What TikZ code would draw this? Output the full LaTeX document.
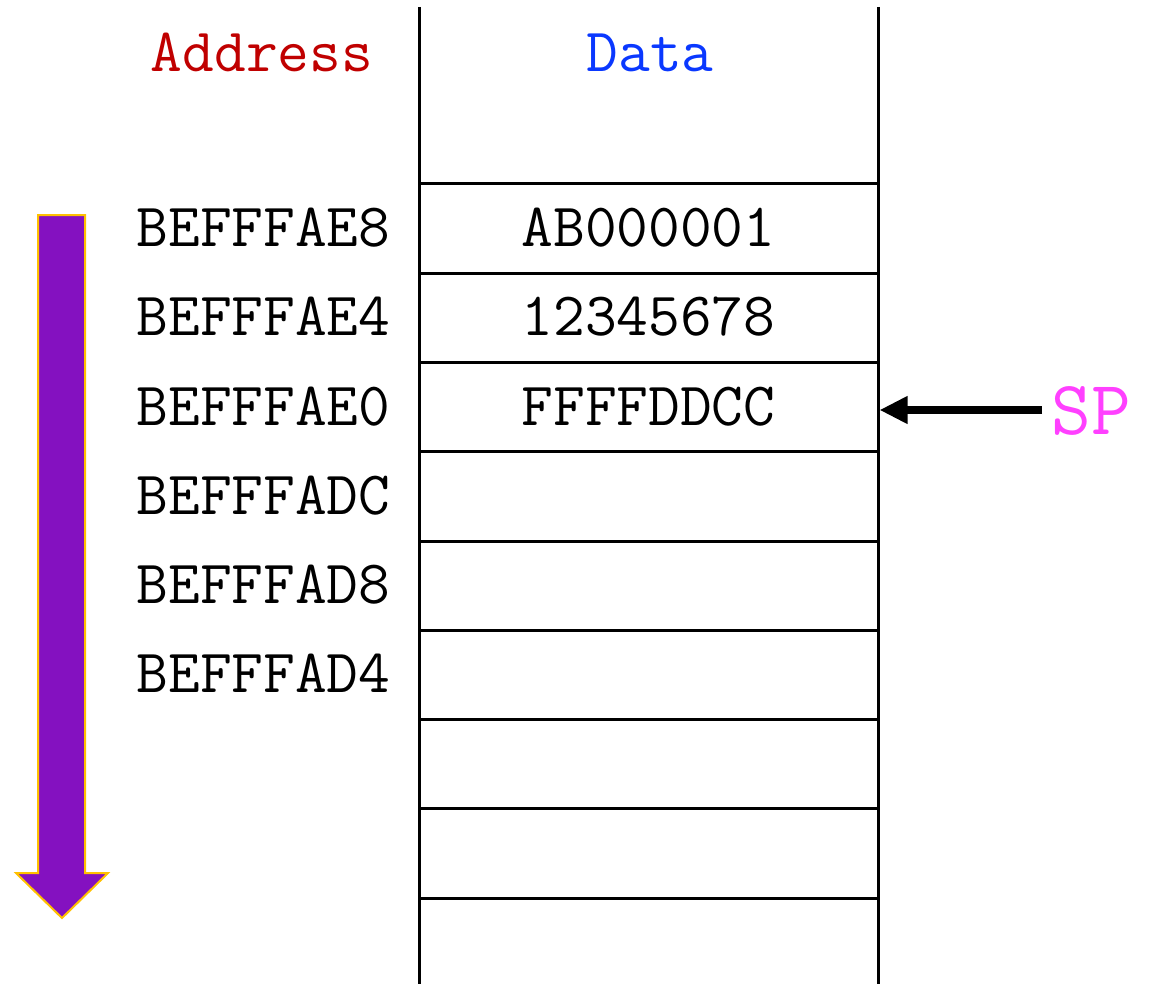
\documentclass[tikz,border=0pt]{standalone}
\usepackage{fontspec}
\usetikzlibrary{arrows.meta}
\definecolor{addrred}{HTML}{C00000}
\definecolor{datablue}{HTML}{0A38FF}
\definecolor{spmag}{HTML}{FF40FF}
\definecolor{growpurple}{HTML}{8411C0}
\definecolor{growgold}{HTML}{FFC000}
\tikzset{
  grid/.style={line width=1.5pt, black},
  lbl/.style={font=\ttfamily\fontsize{30.8}{36}\selectfont, anchor=base, inner sep=0pt},
  addr/.style={lbl},
  val/.style={lbl},
  spbox/.style={font=\ttfamily\fontsize{38.5}{44}\selectfont, anchor=base, inner sep=0pt, text=spmag},
  sparrow/.style={line width=4pt, -{Triangle[length=14pt,width=13pt]}},
  growarrow/.style={fill=growpurple, draw=growgold, line width=1pt, line join=miter}
}
\begin{document}
\begin{tikzpicture}[x=0.5pt, y=-0.5pt]
  \useasboundingbox (0,0) rectangle (1149,984);

  % stack walls
  \draw[grid] (419,7) -- (419,984);
  \draw[grid] (878,7) -- (878,984);
  % cell separators
  \foreach \y in {184,273.25,362.5,451.75,541,630.25,719.5,808.75,898}
    \draw[grid] (419,\y) -- (878,\y);

  % headings
  \node[lbl, text=addrred] (haddr) at (262,72) {Address};
  \node[lbl, text=datablue] (hdata) at (650,72) {Data};

  % addresses and contents
  \node[addr] (a1) at (263.5,246.5)  {BEFFFAE8};
  \node[addr] (a2) at (263.5,335.75) {BEFFFAE4};
  \node[addr] (a3) at (263.5,425)    {BEFFFAE0};
  \node[addr] (a4) at (263.5,514.25) {BEFFFADC};
  \node[addr] (a5) at (263.5,603.5)  {BEFFFAD8};
  \node[addr] (a6) at (263.5,692.75) {BEFFFAD4};

  \node[val] (d1) at (648.5,246.5)  {AB000001};
  \node[val] (d2) at (648.5,335.75) {12345678};
  \node[val] (d3) at (648.5,425)    {FFFFDDCC};

  % stack pointer
  \node[spbox] (sp) at (1091,434) {SP};
  \coordinate (sptail) at (1042,410);
  \coordinate (sptip) at (879.5,410);
  \draw[sparrow] (sptail) -- (sptip);

  % direction of growth
  \draw[growarrow] (38,215) -- (85,215) -- (85,873) -- (108,873)
    -- (62,918) -- (16,873) -- (38,873) -- cycle;
\end{tikzpicture}
\end{document}
